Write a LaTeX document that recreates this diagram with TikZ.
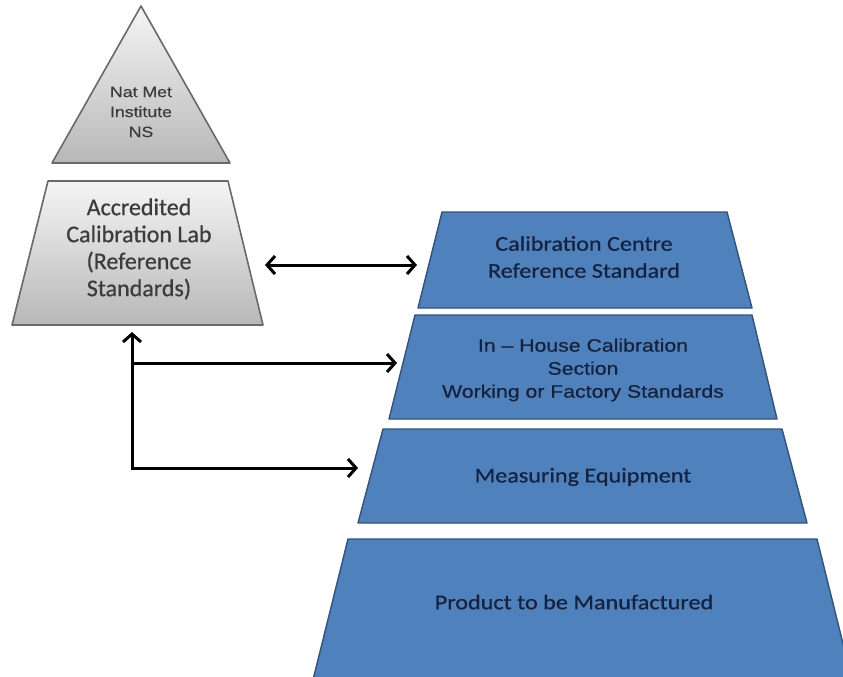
\documentclass[tikz,border=0pt]{standalone}
\usepackage{fontspec}
\setmainfont{Carlito}[FakeStretch=1.15, FakeBold=0.6]
\newfontfamily\labfont{Carlito}[FakeBold=0.6]
\newfontfamily\arialfont{Liberation Sans}[FakeStretch=1.18, FakeBold=0.5]
\usepackage{xcolor}
\definecolor{tierblue}{RGB}{79,129,189}
\definecolor{tieredge}{RGB}{48,82,124}
\definecolor{navy}{RGB}{22,34,60}
\definecolor{greyedge}{RGB}{105,105,105}
\definecolor{greytext}{RGB}{60,60,60}
\usepackage{tikz}
\usetikzlibrary{arrows.meta}

\begin{document}
\begin{tikzpicture}[x=1pt, y=-1pt,
    tier/.style={draw=tieredge, line width=1.4pt, fill=tierblue, line join=round},
    tiertext/.style={text=navy, align=center, inner sep=0pt, font=\fontsize{21}{27}\selectfont},
    greytier/.style={draw=greyedge, line width=1.6pt, line join=round,
                     top color=black!4, bottom color=black!28},
    link/.style={line width=3pt, black, line join=miter,
                 -{Straight Barb[length=8pt,width=18pt]}}
  ]
  \clip (0,0) rectangle (843,677);

  % National institute at the top
  \draw[greytier] (52,163) -- (141,6) -- (230,163) -- cycle;
  \node[text=greytext, align=center, inner sep=0pt,
        font=\arialfont\fontsize{15}{20}\selectfont] (nmi) at (141,112)
    {Nat Met\\Institute\\NS};

  % Accredited lab
  \draw[greytier] (48,181) -- (228,181) -- (263,325) -- (12,325) -- cycle;
  \node[text=greytext, align=center, inner sep=0pt, font=\labfont\fontsize{24}{27}\selectfont]
    (lab) at (139,249) {Accredited\\Calibration Lab\\(Reference\\Standards)};

  % Company pyramid, top to bottom
  \draw[tier] (442,212) -- (727,212) -- (752,308) -- (418,308) -- cycle;
  \node[tiertext] (cc) at (584,257) {Calibration Centre\\Reference Standard};

  \draw[tier] (415,315) -- (752,315) -- (777,419) -- (389,419) -- cycle;
  \node[tiertext, font=\arialfont\fontsize{18}{23}\selectfont] (inh) at (583,370)
    {In – House Calibration\\Section\\Working or Factory Standards};

  \draw[tier] (383,429) -- (782,429) -- (807,523) -- (358,523) -- cycle;
  \node[tiertext] (meas) at (583,477) {Measuring Equipment};

  \draw[tier] (348,539) -- (817,539) -- (857,700) -- (308,700) -- cycle;
  \node[tiertext] (prod) at (574,602) {Product to be Manufactured};

  % points on the sides where the links end
  \coordinate (labE) at (249,265);
  \coordinate (labS) at (132,325);
  \coordinate (ccW) at (429,265);
  \coordinate (inhW) at (403,363);
  \coordinate (measW) at (373,468);
  \coordinate (corner) at (132,468);

  % Links
  \draw[link, {Straight Barb[length=8pt,width=18pt]}-{Straight Barb[length=8pt,width=18pt]},
        shorten <=16pt, shorten >=12pt] (labE) -- (ccW);
  \draw[link, {Straight Barb[length=8pt,width=18pt]}-{Straight Barb[length=8pt,width=18pt]},
        shorten <=7pt, shorten >=15pt] (labS) -- (corner) -- (measW);
  \draw[link, shorten >=6pt] (corner |- inhW) -- (inhW);
\end{tikzpicture}
\end{document}
